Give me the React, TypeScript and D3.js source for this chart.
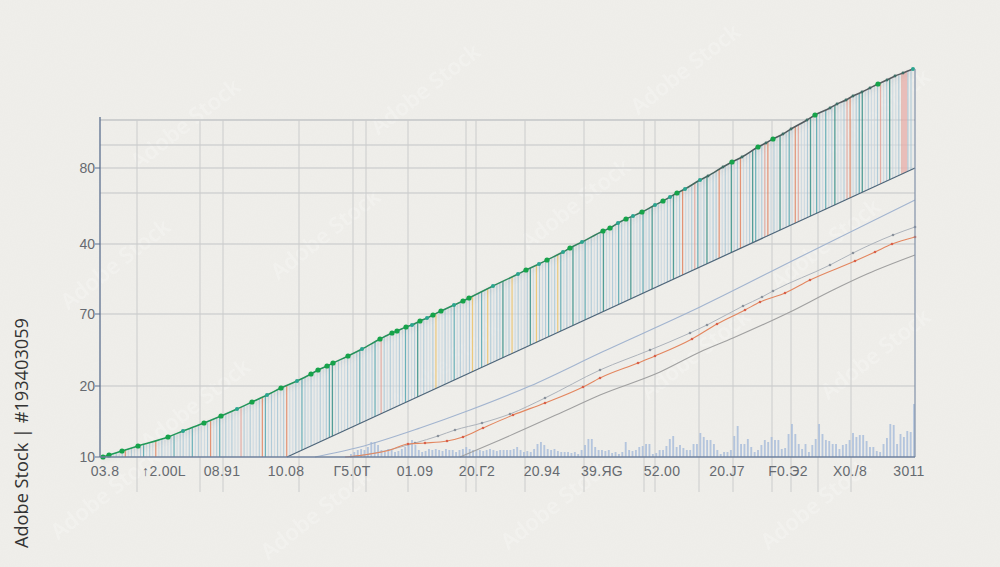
import React from 'react';
import * as d3 from 'd3';

// ---- data (x in chart units 0..815, y in value units above baseline) ----
const curveX = [3,9,22,38,68,83,104,121,137,152,167,181,197,211,218,227,233,248,262,280,292,297,306,312,320,327,333,341,354,363,369,393,418,426,439,447,463,470,482,503,510,518,526,533,542,555,563,570,577,585,600,608,623,632,642,658,666,673,683,691,707,715,730,737,746,753,762,770,778,787,795,803,813];
const curveY = [0,2,6,11,20,26,34,41,48,55,62,69,76,83,87,91,94,101,108,118,124,126,130,132,136,139,142,146,152,156,159,171,183,187,193,197,205,209,215,226,229,234,238,241,245,252,256,260,264,268,277,281,290,295,300,310,314,318,323,328,337,342,349,353,357,361,365,369,373,377,381,384,388];
const dotKinds = "ggggg" + "t" + "gg" + "t" + "g" + "t" + "g" + "t" + "ggggg" + "t" + "gggg" + "t" + "g" + "t" + "gg" + "t" + "gg" + "tt" + "g" + "t" + "g" + "t" + "g" + "t" + "gg" + "t" + "g" + "t" + "g" + "t" + "g" + "t" + "g" + "tt" + "ss" + "g" + "s" + "g" + "s" + "g" + "sss" + "g" + "ssssss" + "g" + "sss" + "t";

const lowerX = [187, 815];
const lowerY = [0, 289];

const stemPattern = [
  "lbtlblbolbllbtlblolbllbtlbblb",
  "tlbllbolbtlblbllrblbllbotlblb",
  "lbollbltblbllblbtdlbllbllbtlbl",
  "btlrblbllbltblbdlbllbyllblbtlb",
  "llbylbtlyblbbdlbylbllbdlyblbt",
  "lbytlbldlbltlblbbdllbltblbdllb",
  "tlbdlbllbbdlbollbrtlbdlbbolbld",
  "lbollbdtlbrolbldlbtlorllbdltbl",
  "tlbdllbrolbtdlbllbrlbdllbrRbb",
].join("");

const blueX = [215,260,320,370,430,500,600,700,815];
const blueY = [0,10,29,47,71,104,150,200,257];

const grayX = [250,280,315,338,355,382,410,445,500,550,590,607,643,662,673,730,753,793,815];
const grayY = [0,5,14,21,27,34,43,59,87,107,124,132,151,160,166,192,204,222,230];

const orangeX = [245,270,290,308,325,347,363,383,413,445,483,500,538,555,592,617,645,660,685,710,755,775,792,815];
const orangeY = [0,3,7,13,14,16,20,29,42,54,70,79,94,101,118,133,147,155,164,177,196,205,213,220];

const darkX = [360,400,467,500,560,600,633,690,733,767,815];
const darkY = [0,17,47,62,85,105,119,145,167,183,202];

const barValues = [
  3,5,7,8,7,10,15,15,12,7, 5,8,7,5,6,8,10,13,17,12, 7,5,6,8,7,8,7,6,8,7,
  7,5,7,8,10,8,7,7,7,6, 7,8,7,6,7,7,7,7,8,10, 7,5,6,5,8,13,15,12,8,7,
  8,6,5,5,5,4,5,3,7,12, 18,18,10,7,7,
  6,7,4,5,3,5,15,7,6,7, 10,11,13,13,3,4,7,7,11,18, 21,10,12,9,7,7,13,13,24,20,
  17,17,13,7,3,5,5,7,21,31, 13,13,18,10,5,7,12,17,15,20, 17,17,8,9,23,33,23,13,8,13,
  5,12,18,33,23,17,16,13,13,8, 12,13,17,24,20,22,22,16,10,10, 6,5,13,19,33,32,13,23,20,26,
  25,53,
];

const yTickValues = [289, 213, 143, 71, 0];
const yTickLabels = ["80", "40", "70", "20", "10"];
const yGridValues = [337, 312, 289, 264, 213, 143, 71];

const xGridValues = [37,100,123,199,253,266,308,366,376,425,484,544,555,599,633,672,691,718,751];
const xTickValues = [5,64,122,186,252,315,377,442,502,562,627,688,750,809];
const xTickLabels = ["03.8","\u21912.00L","08.91","10.08","\u04135.0T","01.09","20.\u04132","20.94","39.\u042FG","52.00","20.J7","F0.\u042D2","X0./8","3011"];

const stemStyle: Record<string, [string, number, number]> = {
  b: ["#97bcd2", 0.68, 1.1],
  l: ["#bdd1dd", 0.62, 1.1],
  t: ["#3f9ca8", 0.75, 1.2],
  d: ["#2c8a82", 0.8, 1.3],
  o: ["#e07a55", 0.78, 1.2],
  r: ["#e0958a", 0.72, 1.2],
  y: ["#ecc060", 0.8, 1.2],
  R: ["#e8a4a0", 0.65, 5],
};

const watermarks = [
  [190, 130], [430, 95], [690, 75], [880, 120], [120, 270], [330, 240], [580, 210], [830, 250],
  [200, 410], [450, 370], [700, 360], [880, 360], [320, 520], [560, 510], [820, 510], [110, 500],
];

export default function App() {
  const x = d3.scaleLinear().domain([0, 815]).range([100, 915]);
  const y = d3.scaleLinear().domain([0, 340]).range([457, 117]);
  const yb = d3.scaleLinear().domain([0, 60]).range([457, 397]);

  const line = d3.line<[number, number]>().curve(d3.curveMonotoneX);
  const pts = (xs: number[], ys: number[]) => xs.map((v, i) => [x(v), y(ys[i])] as [number, number]);

  const curvePts = pts(curveX, curveY);
  const curvePath = line(curvePts) as string;
  const bandPath = curvePath + `L${x(lowerX[1])},${y(lowerY[1])}L${x(lowerX[0])},${y(lowerY[0])}Z`;

  const stemIdx = d3.range(stemPattern.length);
  const stemX = d3.scalePoint<number>().domain(stemIdx).range([x(4), x(811)]);

  const barX = d3.scaleBand<number>().domain(d3.range(barValues.length)).range([x(250), x(815)]).paddingInner(0.45);

  const font = "'Liberation Sans', Arial, sans-serif";

  return (
    <svg width={1000} height={567} style={{ position: 'absolute', left: 0, top: 0 }} xmlns="http://www.w3.org/2000/svg">
      <defs>
        <filter id="paper" x="0" y="0" width="100%" height="100%">
          <feTurbulence type="fractalNoise" baseFrequency="0.85" numOctaves="2" seed="4" />
          <feColorMatrix type="matrix" values="0 0 0 0 0.5  0 0 0 0 0.5  0 0 0 0 0.48  0 0 0 0.06 0" />
        </filter>
        <clipPath id="band"><path d={bandPath} /></clipPath>
        <linearGradient id="curveGrad" x1="0" x2="1" y1="0" y2="0">
          <stop offset="0" stopColor="#1f9a58" />
          <stop offset="0.55" stopColor="#2f8a60" />
          <stop offset="0.8" stopColor="#4d5a5e" />
          <stop offset="1" stopColor="#5a5d62" />
        </linearGradient>
        <filter id="shadow" x="-5%" y="-5%" width="110%" height="120%">
          <feDropShadow dx="0" dy="3" stdDeviation="2" floodColor="#777" floodOpacity="0.2" />
        </filter>
      </defs>

      <rect x={0} y={0} width={1000} height={567} fill="#f0efeb" />
      <rect x={0} y={0} width={1000} height={567} filter="url(#paper)" />

      {/* faint watermarks */}
      {watermarks.map(([wx, wy], i) => (
        <text key={'wm' + i} x={0} y={0} transform={`translate(${wx},${wy}) rotate(-38)`} fontFamily="'Open Sans', sans-serif"
          fontSize={22} fontWeight={600} fill="#ffffff" opacity={0.22} textAnchor="middle">Adobe Stock</text>
      ))}

      {/* grid */}
      {yGridValues.map((v, i) => (
        <line key={'yg' + i} x1={x(0)} x2={x(815)} y1={y(v)} y2={y(v)} stroke="#c3c5c7" strokeWidth={1} />
      ))}
      <line x1={x(0)} x2={x(815)} y1={120} y2={120} stroke="#c3c5c7" strokeWidth={1} />
      {xGridValues.map((v, i) => (
        <line key={'xg' + i} x1={x(v)} x2={x(v)} y1={120} y2={492} stroke="#cbcccc" strokeWidth={1} />
      ))}

      {/* band between curve and lower line */}
      <path d={bandPath} fill="#e6e8e8" opacity={0.5} />
      <g clipPath="url(#band)">
        {stemIdx.map((i) => {
          const s = stemStyle[stemPattern[i]] || stemStyle.b;
          return (
            <line key={'st' + i} x1={stemX(i)} x2={stemX(i)} y1={60} y2={460} stroke={s[0]} strokeOpacity={s[1]} strokeWidth={s[2]} />
          );
        })}
      </g>

      {/* lower boundary line */}
      <line x1={x(lowerX[0])} y1={y(lowerY[0])} x2={x(lowerX[1])} y2={y(lowerY[1])} stroke="#4d6579" strokeWidth={1.2} />

      {/* bottom bars */}
      {barValues.map((v, i) => (
        <rect key={'bar' + i} x={barX(i)} width={barX.bandwidth()} y={yb(v)} height={yb(0) - yb(v)} fill="#a9bddb" opacity={0.85} />
      ))}

      {/* thin lines */}
      <path d={line(pts(blueX, blueY)) as string} fill="none" stroke="#a2b4cf" strokeWidth={1.1} />
      <path d={line(pts(grayX, grayY)) as string} fill="none" stroke="#adb3bb" strokeWidth={1} />
      {pts(grayX, grayY).slice(2).map((p, i) => (
        <circle key={'gd' + i} cx={p[0]} cy={p[1]} r={1.3} fill="#8a929c" />
      ))}
      <path d={line(pts(orangeX, orangeY)) as string} fill="none" stroke="#e3865f" strokeWidth={1.1} />
      {pts(orangeX, orangeY).slice(3).map((p, i) => (
        <circle key={'od' + i} cx={p[0]} cy={p[1]} r={1.3} fill="#d9604a" />
      ))}
      <path d={line(pts(darkX, darkY)) as string} fill="none" stroke="#a0a0a0" strokeWidth={1.1} />

      {/* main curve */}
      <path d={curvePath} fill="none" stroke="url(#curveGrad)" strokeWidth={1.5} filter="url(#shadow)" />
      {curvePts.map((p, i) => {
        const k = dotKinds[i] || 's';
        const fill = k === 'g' ? '#16a34a' : k === 't' ? '#2aa58f' : '#3f6e66';
        const r = k === 'g' ? 2.6 : k === 't' ? 2 : 1.4;
        return <circle key={'cd' + i} cx={p[0]} cy={p[1]} r={r} fill={fill} />;
      })}

      {/* axes frame */}
      <line x1={x(0)} x2={x(0)} y1={117} y2={457} stroke="#5b6f8f" strokeWidth={1.3} />
      <line x1={x(815)} x2={x(815)} y1={69} y2={457} stroke="#8191a8" strokeWidth={1.2} />
      <line x1={x(0)} x2={x(815)} y1={457} y2={457} stroke="#6f819c" strokeWidth={1.6} />

      {/* y ticks */}
      {yTickValues.map((v, i) => (
        <g key={'yt' + i}>
          <line x1={x(0) - 5} x2={x(0)} y1={y(v)} y2={y(v)} stroke="#5b6f8f" strokeWidth={1} />
          <text x={95} y={y(v)} dy="0.35em" textAnchor="end" fontFamily={font} fontSize={14} fill="#666a70">{yTickLabels[i]}</text>
        </g>
      ))}

      {/* x tick labels */}
      {xTickValues.map((v, i) => (
        <text key={'xt' + i} x={x(v)} y={476} textAnchor="middle" fontFamily={font} fontSize={14} fill="#666a70" letterSpacing={0.3}>{xTickLabels[i]}</text>
      ))}

      {/* stock id */}
      <text transform="translate(28,433) rotate(-90)" textAnchor="middle" fontFamily="'Open Sans', sans-serif" fontSize={17.5}
        fill="#333333" textLength={230} lengthAdjust="spacingAndGlyphs">Adobe Stock | #193403059</text>
    </svg>
  );
}
